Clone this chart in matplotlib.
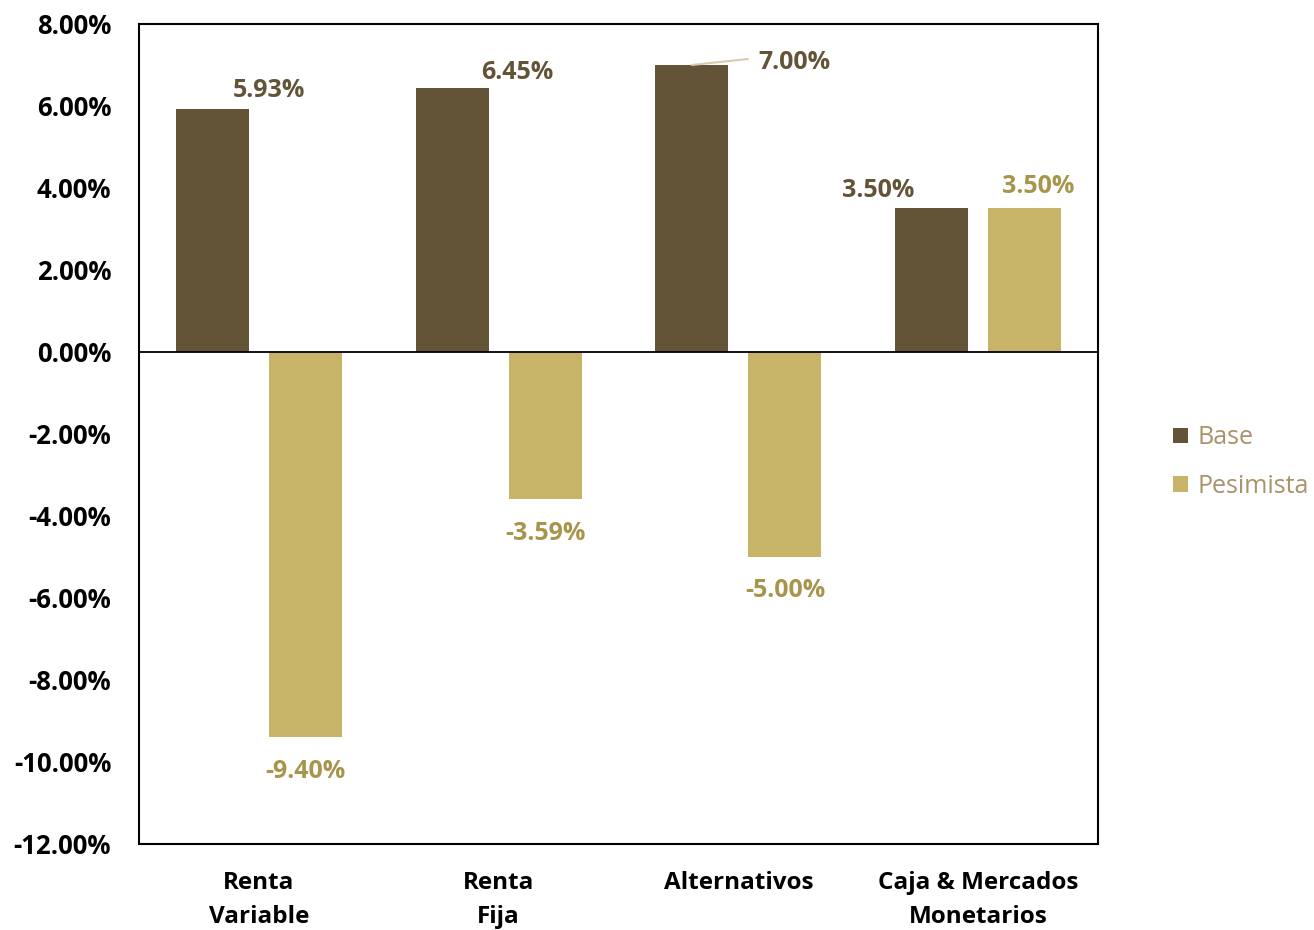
import numpy as np
import matplotlib
matplotlib.use("Agg")
import matplotlib.pyplot as plt
from matplotlib.ticker import FuncFormatter

# data
categories = ["Renta\nVariable", "Renta\nFija", "Alternativos", "Caja & Mercados\nMonetarios"]
base = [5.93, 6.45, 7.00, 3.50]
pesimista = [-9.40, -3.59, -5.00, 3.50]
yticks = [8, 6, 4, 2, 0, -2, -4, -6, -8, -10, -12]

C_BASE = "#635337"
C_PES = "#C8B469"
C_PES_TXT = "#A8954C"
C_LEG_TXT = "#A8926A"

plt.rcParams["font.family"] = ["Open Sans", "DejaVu Sans"]

fig = plt.figure(figsize=(13.14, 9.3), dpi=100)
ax = fig.add_axes([0.1058, 0.0925, 0.7298, 0.8817])

x = np.arange(len(categories))
w = 0.305
off = 0.194
b1 = ax.bar(x - off, base, w, color=C_BASE, label="Base", zorder=2)
b2 = ax.bar(x + off, pesimista, w, color=C_PES, label="Pesimista", zorder=2)

ax.axhline(0, color="black", lw=1.3, zorder=3)
ax.set_ylim(-12, 8)
ax.set_xlim(-0.5, len(categories) - 0.5)
ax.set_yticks(yticks)
ax.yaxis.set_major_formatter(FuncFormatter(lambda v, p: f"{v:.2f}%"))
ax.tick_params(axis="y", length=0, labelsize=18.5, pad=20)
ax.tick_params(axis="x", length=0, labelsize=17.5, pad=19.5)
for t in ax.get_yticklabels():
    t.set_fontweight("bold")
ax.set_xticks(x)
ax.set_xticklabels(categories, fontweight="bold", linespacing=1.55)
for s in ax.spines.values():
    s.set_linewidth(1.5)

# label offsets in pixels (dx, dy) relative to bar end
base_off = [(57, 18), (65, 15), (103, 2), (-53, 18)]
pes_off = [(0, -34), (0, -34), (0, -34), (14, 22)]

for i, r in enumerate(b1):
    xc = r.get_x() + r.get_width() / 2
    dx, dy = base_off[i]
    ax.annotate(f"{base[i]:.2f}%", (xc, base[i]), xytext=(dx, dy),
                textcoords="offset pixels", ha="center", va="center",
                fontsize=18, fontweight="bold", color=C_BASE, zorder=5)
# leader line for Alternativos label
ax.annotate("", (x[2] - off, base[2]), xytext=(56, 6), textcoords="offset pixels",
            arrowprops=dict(arrowstyle="-", color="#D8CCB0", lw=1.5,
                            shrinkA=0, shrinkB=0), zorder=4)

for i, r in enumerate(b2):
    xc = r.get_x() + r.get_width() / 2
    dx, dy = pes_off[i]
    ax.annotate(f"{pesimista[i]:.2f}%", (xc, pesimista[i]), xytext=(dx, dy),
                textcoords="offset pixels", ha="center", va="center",
                fontsize=18, fontweight="bold", color=C_PES_TXT, zorder=5)

leg = fig.legend(handles=[b1, b2], loc="center left", bbox_to_anchor=(0.885, 0.503), frameon=False,
                 fontsize=18, handlelength=0.6, handleheight=0.6, handletextpad=0.4,
                 labelspacing=0.95, borderaxespad=0)
for t in leg.get_texts():
    t.set_color(C_LEG_TXT)

fig.savefig("out.png", dpi=100)
